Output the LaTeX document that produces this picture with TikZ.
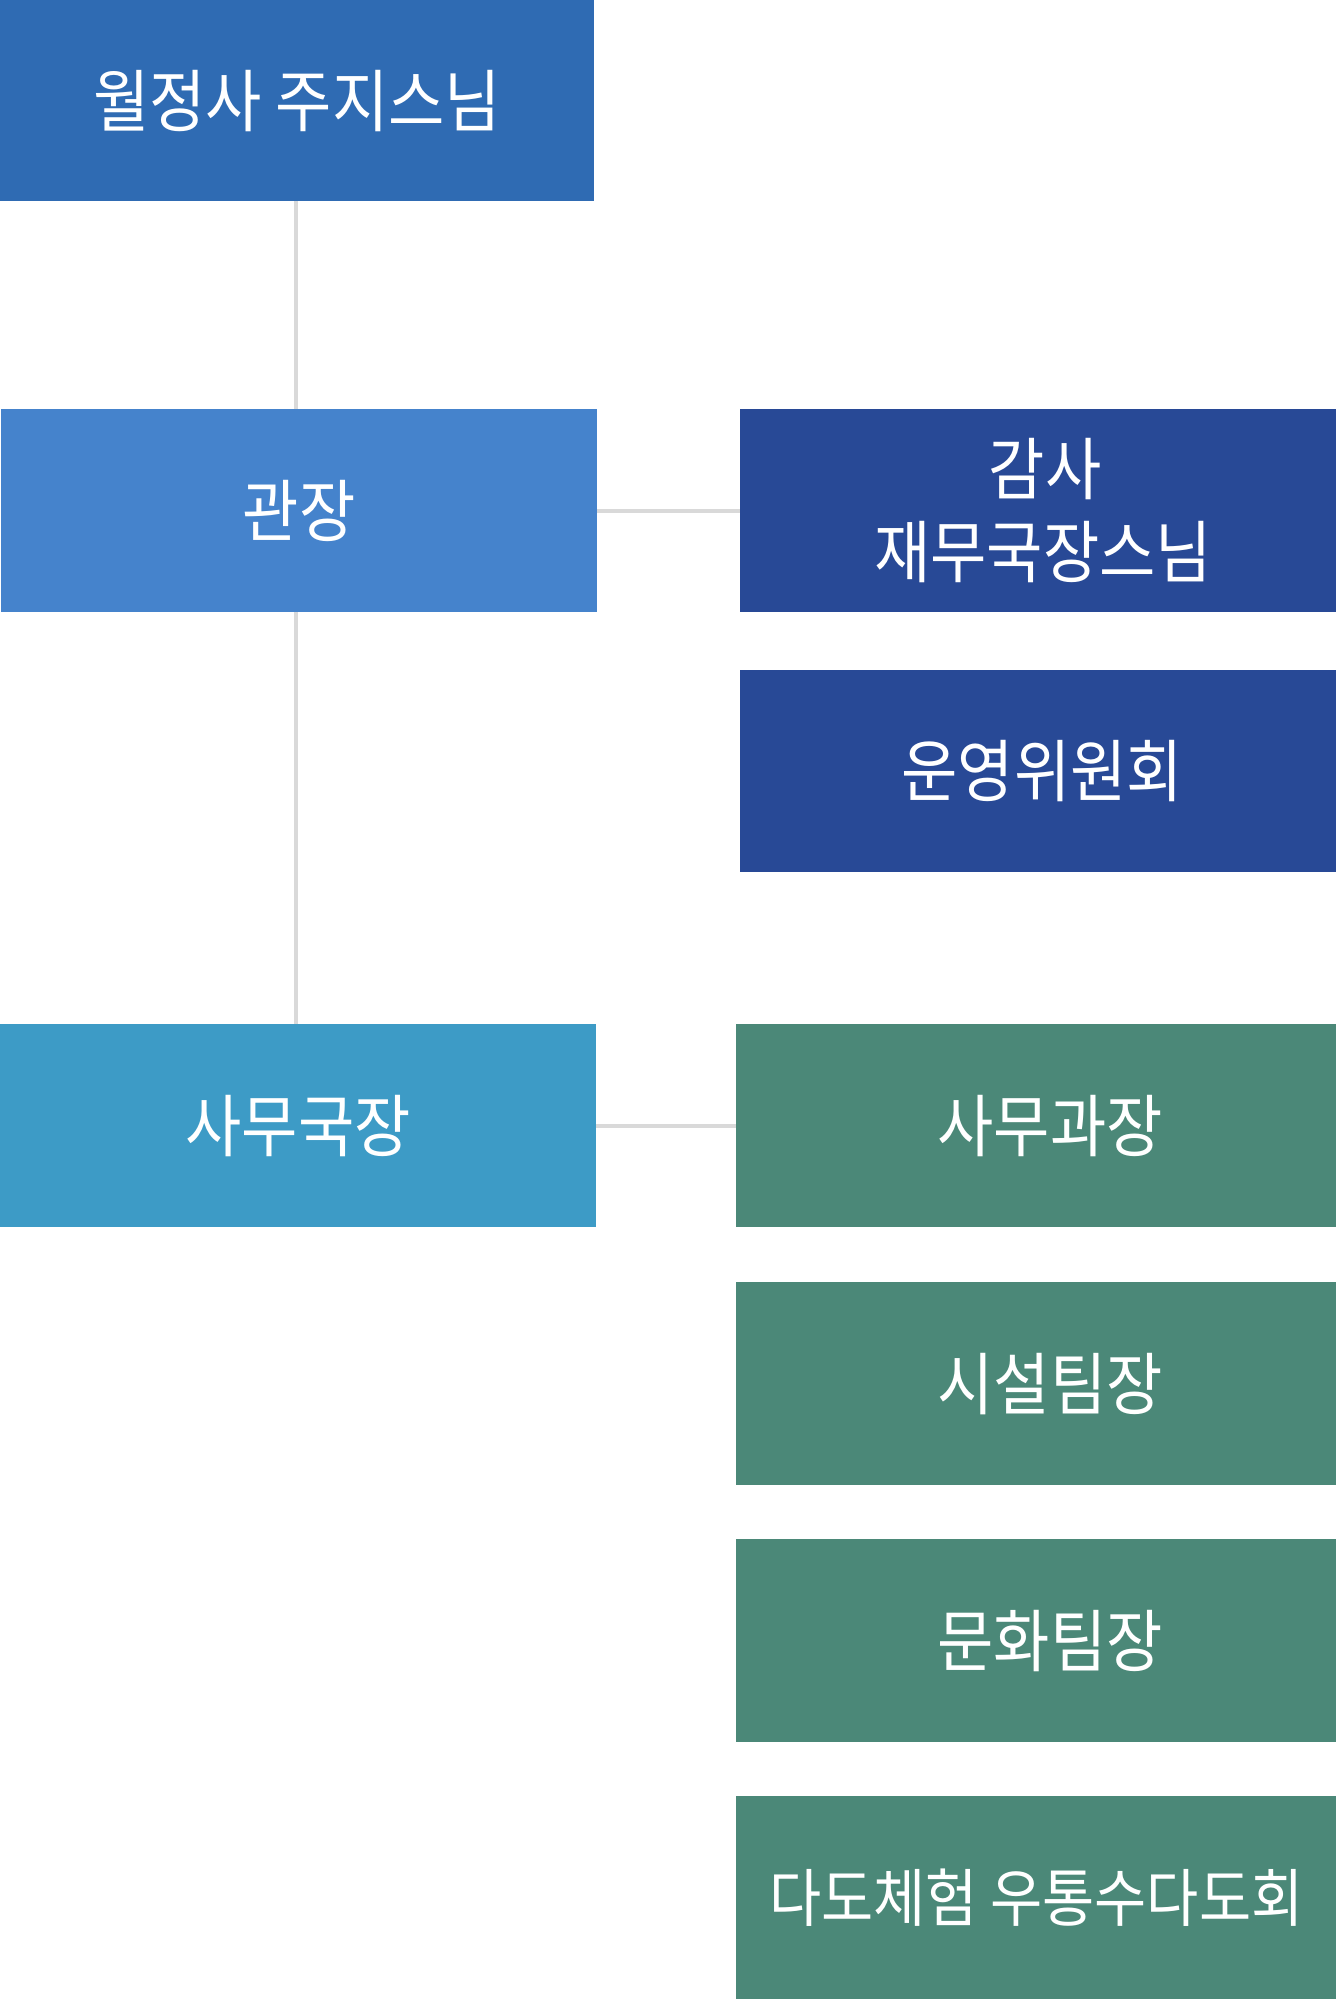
\documentclass[tikz,border=0pt]{standalone}
\usepackage{fontspec}
\newfontfamily\kr[FakeStretch=0.9]{Noto Sans CJK KR}
\definecolor{cTop}{HTML}{2F6BB3}
\definecolor{cGwan}{HTML}{4583CC}
\definecolor{cNavy}{HTML}{284996}
\definecolor{cSamu}{HTML}{3D9BC6}
\definecolor{cGreen}{HTML}{4B8878}
\definecolor{cLine}{HTML}{D9D9D9}
\newcommand{\shiftR}[1]{\hspace*{#1}}
\tikzset{
  box/.style={anchor=north west, inner sep=0pt, text=white, align=center,
    font=\kr\fontsize{68}{83}\selectfont},
  smalltext/.style={font=\kr\fontsize{63}{83}\selectfont},
  conn/.style={draw=cLine, line width=4pt}
}
\begin{document}
\begin{tikzpicture}[x=1pt,y=-1pt]
\useasboundingbox[fill=white] (0,0) rectangle (1336,2000);
\node[box, fill=cTop, minimum width=594pt, minimum height=201pt] (top) at (0,0) {월정사 주지스님};
\node[box, fill=cGwan, minimum width=596pt, minimum height=203pt] (gwan) at (1,409) {관장};
\node[box, fill=cNavy, minimum width=596pt, minimum height=203pt] (gamsa) at (740,409) {\shiftR{14pt}감사\\\shiftR{10pt}재무국장스님};
\node[box, fill=cNavy, minimum width=596pt, minimum height=202pt] (unyeong) at (740,670) {\shiftR{8pt}운영위원회};
\node[box, fill=cSamu, minimum width=596pt, minimum height=203pt] (samu) at (0,1024) {사무국장};
\node[box, fill=cGreen, minimum width=600pt, minimum height=203pt] (gwajang) at (736,1024) {\shiftR{28pt}사무과장};
\node[box, fill=cGreen, minimum width=600pt, minimum height=203pt] (siseol) at (736,1282) {\shiftR{28pt}시설팀장};
\node[box, fill=cGreen, minimum width=600pt, minimum height=203pt] (munhwa) at (736,1539) {\shiftR{28pt}문화팀장};
\node[box, smalltext, fill=cGreen, minimum width=600pt, minimum height=203pt] (dado) at (736,1796) {다도체험 우통수다도회};
\coordinate (vx) at (296,0);
\draw[conn] (vx |- top.south) -- (vx |- gwan.north);
\draw[conn] (vx |- gwan.south) -- (vx |- samu.north);
\draw[conn] (gwan.east) -- (gamsa.west);
\draw[conn] (samu.east) -- (gwajang.west);
\end{tikzpicture}
\end{document}
